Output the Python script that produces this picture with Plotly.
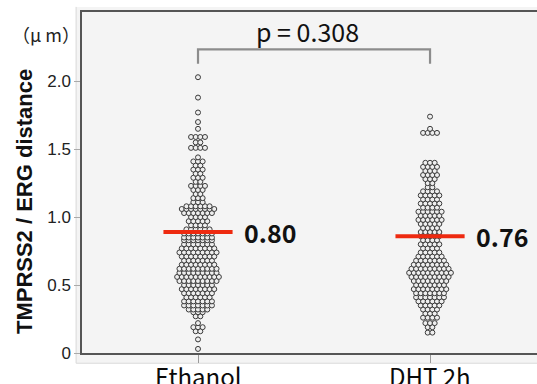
import plotly.graph_objects as go

# ---- data (row levels of the swarm, µm, and dot counts per row)
categories = ["Ethanol", "DHT 2h"]

ethanol_levels = [0.03, 0.10, 0.16, 0.19, 0.22, 0.27, 0.30, 0.32, 0.35, 0.38, 0.41, 0.44,
                  0.47, 0.50, 0.53, 0.56, 0.59, 0.62, 0.65, 0.68, 0.71, 0.74, 0.77, 0.80,
                  0.83, 0.85, 0.88, 0.91, 0.94, 0.97, 1.00, 1.03, 1.06, 1.08, 1.11, 1.14,
                  1.17, 1.20, 1.23, 1.26, 1.29, 1.32, 1.35, 1.38, 1.41, 1.44, 1.51, 1.55,
                  1.59, 1.65, 1.70, 1.77, 1.88, 2.03]
ethanol_counts = [1, 1, 2, 3, 1, 2, 3, 5, 7, 7, 6, 7,
                  8, 7, 9, 10, 9, 9, 8, 7, 8, 9, 8, 7,
                  7, 7, 7, 6, 4, 5, 4, 7, 8, 6, 3, 3,
                  2, 3, 4, 2, 3, 2, 3, 2, 3, 1, 4, 2,
                  4, 1, 1, 1, 1, 1]

dht_levels = [0.15, 0.19, 0.22, 0.26, 0.29, 0.32, 0.35, 0.38, 0.41, 0.44, 0.47, 0.50,
              0.53, 0.56, 0.59, 0.62, 0.65, 0.68, 0.71, 0.74, 0.77, 0.80, 0.83, 0.86,
              0.89, 0.92, 0.95, 0.98, 1.01, 1.04, 1.07, 1.10, 1.13, 1.16, 1.19, 1.22,
              1.25, 1.28, 1.31, 1.34, 1.37, 1.40, 1.62, 1.65, 1.74]
dht_counts = [2, 2, 3, 4, 3, 4, 5, 6, 7, 7, 8, 7,
              8, 9, 10, 9, 8, 7, 6, 5, 4, 5, 4, 5,
              5, 4, 5, 6, 5, 6, 4, 5, 4, 5, 4, 2,
              2, 3, 4, 3, 4, 3, 4, 1, 1]

line_values = [0.89, 0.86]          # red bars as drawn
line_labels = ["0.80", "0.76"]
p_text = "p = 0.308"
y_ticks = [0, 0.5, 1.0, 1.5, 2.0]
y_ticklabels = ["0", "0.5", "1.0", "1.5", "2.0"]

# ---- layout constants
DOT_SPACING = 0.0200   # horizontal spacing between dots (x units)
HALF_BAR = 0.149
JP = "Noto Sans CJK JP, Liberation Sans, Arial"

def swarm(center, levels, counts):
    xs, ys = [], []
    for v, n in zip(levels, counts):
        for i in range(n):
            xs.append(center + (i - (n - 1) / 2) * DOT_SPACING)
            ys.append(v)
    return xs, ys

fig = go.Figure()
for ci, (lv, ct) in enumerate([(ethanol_levels, ethanol_counts), (dht_levels, dht_counts)]):
    xs, ys = swarm(ci, lv, ct)
    fig.add_trace(go.Scatter(
        x=xs, y=ys, mode="markers", showlegend=False, hoverinfo="skip",
        marker=dict(symbol="circle", size=5, color="#eeeeee",
                    line=dict(color="#3a3a3a", width=1)),
    ))

# red median bars
for ci, v in enumerate(line_values):
    fig.add_trace(go.Scatter(
        x=[ci - HALF_BAR, ci + HALF_BAR], y=[v, v], mode="lines", showlegend=False,
        line=dict(color="#ee2a10", width=4), hoverinfo="skip",
    ))
    fig.add_annotation(x=ci + 0.19, y=v, text="<b>" + line_labels[ci] + "</b>",
                       showarrow=False, xanchor="left", yanchor="middle",
                       font=dict(family=JP, size=25, color="#111"))

# category labels just below the axis
for ci, name in enumerate(categories):
    fig.add_annotation(x=ci, xref="x", yref="paper", y=-0.066, text=name,
                       showarrow=False, xanchor="center", yanchor="middle",
                       font=dict(family=JP, size=24, color="#0a0a0a"))

# background panel slightly larger than the plot area
fig.add_shape(type="rect", xref="paper", yref="paper", x0=-0.013, x1=1.0, y0=-0.03,
              y1=1.015, fillcolor="#f4f4f4", line=dict(width=0), layer="below")
fig.add_shape(type="line", xref="paper", yref="paper", x0=-0.013, x1=-0.013, y0=-0.03,
              y1=1.015, line=dict(color="#dadada", width=1), layer="below")
fig.add_shape(type="line", xref="paper", yref="paper", x0=-0.013, x1=1.0, y0=-0.03,
              y1=-0.03, line=dict(color="#dadada", width=1), layer="below")

# significance bracket
fig.add_shape(type="path", xref="x", yref="y",
              path="M 0,2.13 L 0,2.235 L 1,2.235 L 1,2.13",
              line=dict(color="#8c8c8c", width=2.2))
fig.add_annotation(x=0.47, y=2.37, text=p_text, showarrow=False, xanchor="center",
                   yanchor="middle",
                   font=dict(family=JP, size=25, color="#111"))

# unit label and y title
fig.add_annotation(xref="paper", yref="y", x=0.0, y=2.35, text="（μ m）",
                   showarrow=False, xanchor="right", yanchor="middle",
                   font=dict(family="Noto Sans CJK JP", size=18, color="#222"))
fig.add_annotation(xref="paper", yref="paper", x=-0.125, y=0.443,
                   text="<b>TMPRSS2 / ERG distance</b>", textangle=-90, showarrow=False,
                   xanchor="center", yanchor="middle",
                   font=dict(family="Liberation Sans, Arial", size=22, color="#111"))

fig.update_layout(
    width=537, height=384,
    margin=dict(l=82, r=0, t=12, b=31, autoexpand=False),
    paper_bgcolor="white", plot_bgcolor="#f4f4f4",
    showlegend=False,
    xaxis=dict(range=[-0.5, 1.461], tickvals=[0, 1], showticklabels=False,
               automargin=False,
               showgrid=False, zeroline=False, showline=True, linecolor="#555",
               linewidth=1.5, mirror=True, ticks="outside", ticklen=8, tickcolor="#999"),
    yaxis=dict(range=[0, 2.51], tickvals=y_ticks, ticktext=y_ticklabels,
               automargin=False,
               showgrid=False, zeroline=False, showline=True, linecolor="#555",
               linewidth=1.5, ticks="outside", ticklen=6, tickcolor="#aaa",
               tickfont=dict(family="Liberation Sans, Arial", size=17, color="#222")),
)

fig.write_html("out.html", config={"displayModeBar": False},
               post_script="document.body.style.margin='0';document.body.style.overflow='hidden';")
